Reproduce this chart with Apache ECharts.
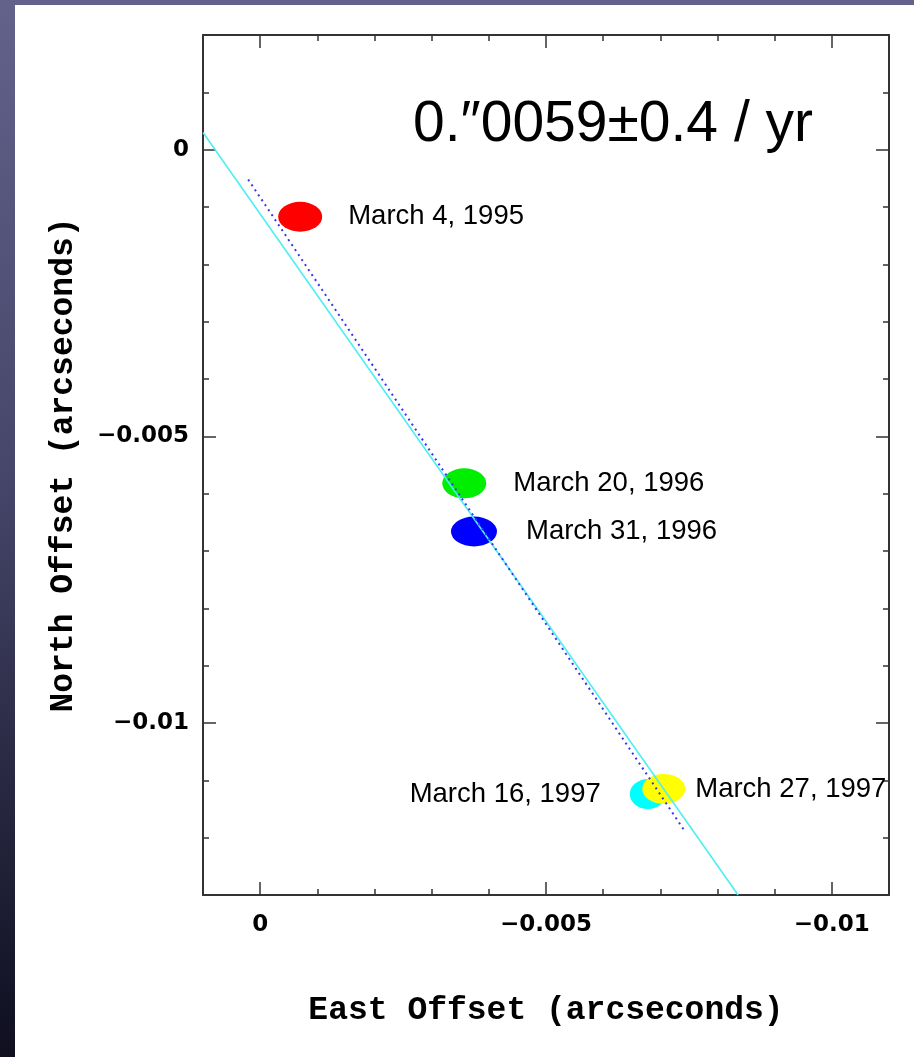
<!DOCTYPE html>
<html>
<head>
<meta charset="utf-8">
<script src="https://cdn.jsdelivr.net/npm/echarts@6/dist/echarts.min.js"></script>
<style>
  html, body { margin: 0; padding: 0; width: 914px; height: 1057px; overflow: hidden; }
  body { background: linear-gradient(to bottom, #62628b 0%, #46466a 45%, #22223a 80%, #0f0f20 100%); position: relative; }
  #panel { position: absolute; left: 15px; top: 5px; right: 0; bottom: 0; background: #ffffff; }
  #chart { position: absolute; left: 0; top: 0; width: 914px; height: 1057px; }
</style>
</head>
<body>
<div id="panel"></div>
<div id="chart"></div>
<script>
// ---- data ----
const dates = ['March 4, 1995', 'March 20, 1996', 'March 31, 1996', 'March 16, 1997', 'March 27, 1997'];
const eastOffset = [-0.0007, -0.00357, -0.00374, -0.00678, -0.00706];
const northOffset = [-0.00117, -0.00582, -0.00666, -0.01124, -0.01115];

const fitSolidEast = [0.001, -0.00836];
const fitSolidNorth = [0.0003, -0.013];
const fitDottedEast = [0.00021, -0.00743];
const fitDottedNorth = [-0.00052, -0.01189];

const xMajorTicks = [0, -0.005, -0.01];
const yMajorTicks = [0, -0.005, -0.01];
const xMinorTicks = [0.001, -0.001, -0.002, -0.003, -0.004, -0.006, -0.007, -0.008, -0.009, -0.011];
const yMinorTicks = [0.002, 0.001, -0.001, -0.002, -0.003, -0.004, -0.006, -0.007, -0.008, -0.009, -0.011, -0.012, -0.013];

const xRange = [-0.011, 0.001];
const yRange = [-0.013, 0.002];

const annotation = '0.\u20330059\u00b10.4 / yr';
const xTitle = 'East Offset (arcseconds)';
const yTitle = 'North Offset (arcseconds)';

// ---- styles ----
const markerColors = ['#ff0000', '#00ee00', '#0000ff', '#00ffff', '#ffff00'];
const markerSizes = [[44, 30], [44, 30], [46, 30], [36, 30], [43, 30]];
const labelPos = [['right', 26], ['right', 27], ['right', 29], ['left', 29], ['right', 10]];

function fmt(v) {
  if (Math.abs(v) < 1e-12) return '0';
  return '\u2212' + String(+Math.abs(v).toFixed(4));
}

const tickFont = { fontFamily: 'DejaVu Sans', fontWeight: 'bold', fontSize: 23, color: '#000' };
const titleFont = { fontFamily: 'Liberation Mono', fontWeight: 'bold', fontSize: 33, color: '#000' };

function axisBase(kind, pos, ticks, len, showLine, showLabels, range) {
  const a = {
    type: 'value',
    position: pos,
    min: range[0],
    max: range[1],
    splitLine: { show: false },
    axisLine: { show: showLine, onZero: false, lineStyle: { color: '#333', width: 2 } },
    axisTick: { show: true, inside: true, length: len, customValues: ticks, lineStyle: { color: '#333', width: 1.5 } },
    axisLabel: showLabels
      ? Object.assign({ show: true, customValues: ticks, formatter: fmt, margin: kind === 'x' ? 19 : 14 }, tickFont)
      : { show: false }
  };
  if (kind === 'x') a.inverse = true;
  return a;
}

const xAxes = [
  Object.assign(axisBase('x', 'bottom', xMajorTicks, 13, true, true, xRange), {
    name: xTitle, nameLocation: 'middle', nameGap: 99, nameTextStyle: titleFont
  }),
  axisBase('x', 'bottom', xMinorTicks, 6, false, false, xRange),
  axisBase('x', 'top', xMajorTicks, 13, true, false, xRange),
  axisBase('x', 'top', xMinorTicks, 6, false, false, xRange)
];
const yAxes = [
  Object.assign(axisBase('y', 'left', yMajorTicks, 13, true, true, yRange), {
    name: yTitle, nameLocation: 'middle', nameGap: 123, nameRotate: 90, nameTextStyle: titleFont
  }),
  axisBase('y', 'left', yMinorTicks, 6, false, false, yRange),
  axisBase('y', 'right', yMajorTicks, 13, true, false, yRange),
  axisBase('y', 'right', yMinorTicks, 6, false, false, yRange)
];

const pointData = dates.map((d, i) => ({
  value: [eastOffset[i], northOffset[i], d],
  symbolSize: markerSizes[i],
  itemStyle: { color: markerColors[i], opacity: 1 },
  label: { show: true, position: labelPos[i][0], distance: labelPos[i][1] }
}));

const chart = echarts.init(document.getElementById('chart'), null, { renderer: 'canvas' });
chart.setOption({
  backgroundColor: 'transparent',
  animation: false,
  grid: { left: 203, top: 35, width: 686, height: 860, containLabel: false },
  xAxis: xAxes,
  yAxis: yAxes,
  graphic: [{
    type: 'text',
    left: 413,
    top: 97,
    z: 100,
    style: { text: annotation, fontFamily: 'Liberation Sans', fontSize: 57, fill: '#000' }
  }],
  series: [
    {
      type: 'scatter',
      symbol: 'circle',
      data: pointData,
      z: 2,
      itemStyle: { opacity: 1 },
      label: {
        formatter: p => p.value[2],
        fontFamily: 'Liberation Sans', fontSize: 27.5, color: '#000', opacity: 1
      }
    },
    {
      type: 'line',
      data: fitSolidEast.map((x, i) => [x, fitSolidNorth[i]]),
      symbol: 'none',
      z: 4,
      lineStyle: { color: '#4eeef2', width: 1.6 }
    },
    {
      type: 'line',
      data: fitDottedEast.map((x, i) => [x, fitDottedNorth[i]]),
      symbol: 'none',
      z: 5,
      lineStyle: { color: '#3535ee', width: 2, type: [2, 4] }
    }
  ]
});
</script>
</body>
</html>
